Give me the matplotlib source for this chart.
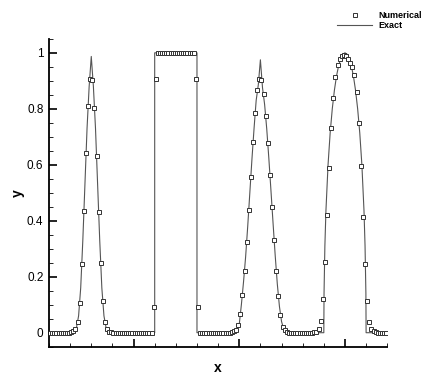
import numpy as np
import matplotlib
matplotlib.use("Agg")
import matplotlib.pyplot as plt
from matplotlib.ticker import MultipleLocator, NullFormatter

# numerical solution: cell centres from -0.895 to 0.695 (dx = 0.01)
x_first, x_last, n_cells = -0.895, 0.695, 160

num_y = (
    [0.0] * 10
    + [0.002, 0.005, 0.013, 0.037, 0.106, 0.244, 0.435, 0.641, 0.811, 0.906,
       0.904, 0.803, 0.632, 0.433, 0.248, 0.112, 0.039, 0.012, 0.004, 0.001]
    + [0.0] * 19
    + [0.093, 0.908]
    + [1.0] * 18
    + [0.908, 0.093]
    + [0.0] * 15
    + [0.002, 0.005, 0.011, 0.027, 0.067, 0.134, 0.222, 0.323, 0.437, 0.558,
       0.680, 0.785, 0.866, 0.905, 0.902, 0.853, 0.776, 0.677, 0.565, 0.449,
       0.332, 0.222, 0.130, 0.062, 0.022, 0.008, 0.002]
    + [0.0] * 12
    + [0.001, 0.004, 0.012, 0.043, 0.122, 0.253, 0.419, 0.589, 0.733, 0.840,
       0.912, 0.956, 0.978, 0.990, 0.993, 0.990, 0.977, 0.965, 0.950, 0.920,
       0.859, 0.751, 0.596, 0.415, 0.245, 0.112, 0.038, 0.012, 0.005, 0.002]
    + [0.0] * 5
)

# exact solution, vertices
exact_x = [-0.90, -0.80, -0.78, -0.77, -0.76, -0.75, -0.74, -0.73, -0.72, -0.71,
           -0.70, -0.69, -0.68, -0.67, -0.66, -0.65, -0.64, -0.63, -0.62, -0.60,
           -0.40, -0.40, -0.20, -0.20,
           -0.02, 0.00, 0.01, 0.02, 0.03, 0.04, 0.05, 0.06, 0.07, 0.08, 0.09,
           0.10, 0.11, 0.12, 0.13, 0.14, 0.15, 0.16, 0.17, 0.18, 0.19, 0.20,
           0.21, 0.23,
           0.40, 0.401, 0.405, 0.41, 0.42, 0.43, 0.44, 0.45, 0.46, 0.47, 0.48,
           0.49, 0.50, 0.51, 0.52, 0.53, 0.54, 0.55, 0.56, 0.57, 0.58, 0.59,
           0.595, 0.599, 0.60, 0.70]
exact_y = [0.0, 0.0, 0.004, 0.018, 0.06, 0.16, 0.33, 0.53, 0.73, 0.88,
           0.987, 0.88, 0.73, 0.53, 0.33, 0.16, 0.06, 0.018, 0.004, 0.0,
           0.0, 1.0, 1.0, 0.0,
           0.0, 0.03, 0.10, 0.18, 0.27, 0.38, 0.50, 0.62, 0.73, 0.83, 0.885,
           0.975, 0.875, 0.815, 0.728, 0.622, 0.507, 0.39, 0.276, 0.174, 0.094, 0.04,
           0.013, 0.0,
           0.0, 0.14, 0.31, 0.436, 0.60, 0.714, 0.80, 0.866, 0.917, 0.954, 0.98,
           0.995, 1.0, 0.995, 0.98, 0.954, 0.917, 0.866, 0.80, 0.714, 0.60, 0.436,
           0.31, 0.14, 0.0, 0.0]

num_x = np.linspace(x_first, x_last, n_cells)

plt.rcParams['font.family'] = ['Liberation Sans', 'DejaVu Sans']

fig = plt.figure(figsize=(4.32, 3.82), dpi=100)
ax = fig.add_axes([0.1134, 0.0924, 0.783, 0.806])

line_exact, = ax.plot(exact_x, exact_y, color='#555555', lw=0.8, label='Exact', zorder=2)
pts, = ax.plot(num_x, num_y, ls='none', marker='s', ms=3.5, mfc='white',
               mec='#333333', mew=0.7, label='Numerical', zorder=3)

ax.set_xlim(-0.9, 0.7)
ax.set_ylim(-0.05, 1.05)

for s in ['top', 'right']:
    ax.spines[s].set_visible(False)
for s in ['left', 'bottom']:
    ax.spines[s].set_linewidth(1.3)

ax.xaxis.set_major_locator(MultipleLocator(0.5))
ax.xaxis.set_minor_locator(MultipleLocator(0.1))
ax.xaxis.set_major_formatter(NullFormatter())
ax.yaxis.set_major_locator(MultipleLocator(0.2))
ax.yaxis.set_minor_locator(MultipleLocator(0.05))
ax.set_yticks([0, 0.2, 0.4, 0.6, 0.8, 1.0])
ax.set_yticklabels(['0', '0.2', '0.4', '0.6', '0.8', '1'])
ax.tick_params(which='major', direction='in', length=6, width=1.2, labelsize=8.5, pad=4)
ax.tick_params(which='minor', direction='in', length=3, width=0.6)

ax.set_xlabel('x', fontsize=10, fontweight='bold')
ax.set_ylabel('y', fontsize=10, fontweight='bold')
ax.xaxis.set_label_coords(0.5, -0.045)
ax.yaxis.set_label_coords(-0.072, 0.5)

fig.legend(handles=[pts, line_exact], loc='upper left', bbox_to_anchor=(0.78, 0.972),
           frameon=False, borderpad=0, borderaxespad=0, handlelength=3.9,
           handletextpad=0.65, labelspacing=0.15,
           prop={'size': 6.5, 'weight': 'bold'})

fig.savefig('out.png', dpi=100)
